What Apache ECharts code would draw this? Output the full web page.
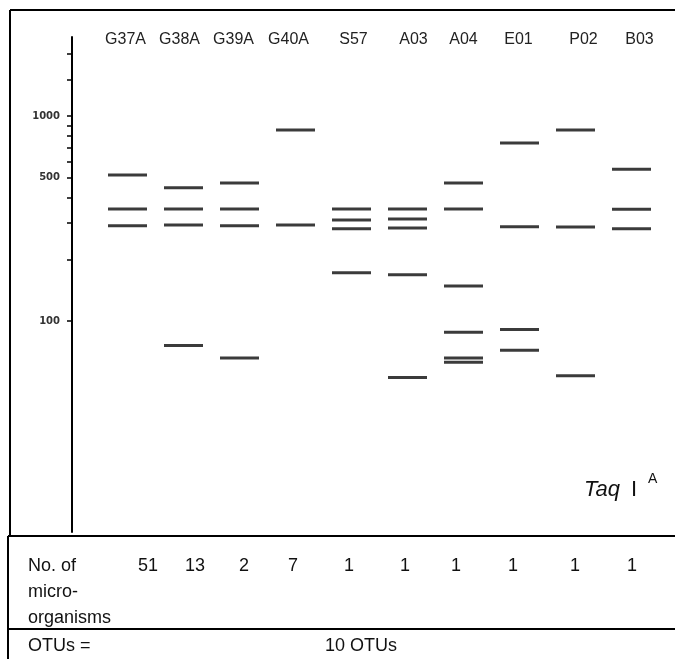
<!DOCTYPE html>
<html><head><meta charset="utf-8">
<script src="https://cdn.jsdelivr.net/npm/echarts@6/dist/echarts.min.js"></script>
<style>html,body{margin:0;padding:0;background:#fff}#c{width:675px;height:659px}</style>
</head><body><div id="c"></div>
<script>
// Lanes (isolates) and their Taq I fragment sizes (bp)
const lanes = ['G37A', 'G38A', 'G39A', 'G40A', 'S57', 'A03', 'A04', 'E01', 'P02', 'B03'];
const bandsG37A = [515, 352, 291];
const bandsG38A = [446, 352, 294, 76];
const bandsG39A = [471, 352, 291, 66];
const bandsG40A = [854, 294];
const bandsS57  = [352, 311, 282, 172];
const bandsA03  = [352, 314, 284, 168, 53];
const bandsA04  = [471, 352, 148, 88, 66, 63];
const bandsE01  = [738, 288, 91, 72];
const bandsP02  = [854, 287, 54];
const bandsB03  = [550, 351, 282];
const laneBands = [bandsG37A, bandsG38A, bandsG39A, bandsG40A, bandsS57, bandsA03, bandsA04, bandsE01, bandsP02, bandsB03];

// Size ladder ticks and labels
const ladderTicks = [2000, 1500, 1000, 900, 800, 700, 600, 500, 400, 300, 200, 100];
const ladderLabels = [1000, 500, 100];

// Table rows
const counts = [51, 13, 2, 7, 1, 1, 1, 1, 1, 1];
const countsRowLabel = ['No. of', 'micro-', 'organisms'];
const otuLabel = 'OTUs =';
const otuValue = '10 OTUs';

// ---- layout (not data) ----
const countX = [148, 195, 244, 293, 349, 405, 456, 513, 575, 632];
const laneLabelShift = [-2, -4, -6, -7, 2, 6, 0, -1, 8, 8];
const tableFont = 'Liberation Sans, Arial, sans-serif';

const bandData = [];
laneBands.forEach((arr, i) => arr.forEach(v => bandData.push([lanes[i], v])));

const laneRich = {};
laneLabelShift.forEach((dx, i) => {
  laneRich['r' + i] = { fontSize: 16, color: '#222', fontFamily: tableFont,
    padding: dx < 0 ? [0, -2 * dx, 0, 0] : [0, 0, 0, 2 * dx] };
});

const chart = echarts.init(document.getElementById('c'), null, { renderer: 'canvas' });

const graphics = [];
function line(x1, y1, x2, y2, w) {
  graphics.push({ type: 'line', silent: true, shape: { x1, y1, x2, y2 }, style: { stroke: '#000', lineWidth: w } });
}
function text(str, x, y, size, align, extra) {
  graphics.push({ type: 'text', silent: true, x, y,
    style: Object.assign({ text: str, fill: '#111', font: size + 'px ' + tableFont, textAlign: align, textVerticalAlign: 'middle' }, extra || {}) });
}
// frame of the gel panel and table
line(10, 10, 10, 536, 2);
line(10, 10, 675, 10, 2);
line(8, 536, 675, 536, 2);
line(8, 629, 675, 629, 2);
line(8, 536, 8, 659, 2);
// table texts
countsRowLabel.forEach((t, i) => text(t, 28, 566 + i * 26, 18, 'left'));
counts.forEach((c, i) => text(String(c), countX[i], 566, 18, 'center'));
text(otuLabel, 28, 646, 18, 'left');
text(otuValue, 397, 646, 18, 'right');
// enzyme label
graphics.push({ type: 'text', silent: true, x: 584, y: 490,
  style: { text: 'Taq', fill: '#111', font: 'italic 22px ' + tableFont, textAlign: 'left', textVerticalAlign: 'middle' } });
text('I', 631, 490, 22, 'left');
text('A', 648, 479, 14, 'left');

chart.setOption({
  animation: false,
  backgroundColor: '#fff',
  grid: { left: 99.5, width: 560, top: 37, height: 495, containLabel: false },
  xAxis: {
    type: 'category', data: lanes, position: 'top', offset: -20,
    axisLine: { show: false }, axisTick: { show: false }, splitLine: { show: false },
    axisLabel: { interval: 0, fontSize: 16, color: '#222', fontFamily: tableFont, margin: 9,
      formatter: (v, i) => '{r' + i + '|' + v + '}', rich: laneRich }
  },
  yAxis: {
    type: 'log', logBase: 10, min: 9.35, max: 2427, position: 'left', offset: 27.5,
    axisLine: { show: true, lineStyle: { color: '#000', width: 2 } },
    axisTick: { show: true, length: 5, customValues: ladderTicks, lineStyle: { color: '#000', width: 1.5 } },
    minorTick: { show: false },
    axisLabel: { customValues: ladderLabels, formatter: v => String(v), fontSize: 10, fontWeight: 'bold',
      fontFamily: 'DejaVu Sans', color: '#333', margin: 12 },
    splitLine: { show: false }
  },
  series: [{
    type: 'scatter', data: bandData, symbol: 'rect', symbolSize: [39, 3],
    itemStyle: { color: '#0a0a0a' }, silent: true
  }],
  graphic: graphics
});
</script>
</body></html>
